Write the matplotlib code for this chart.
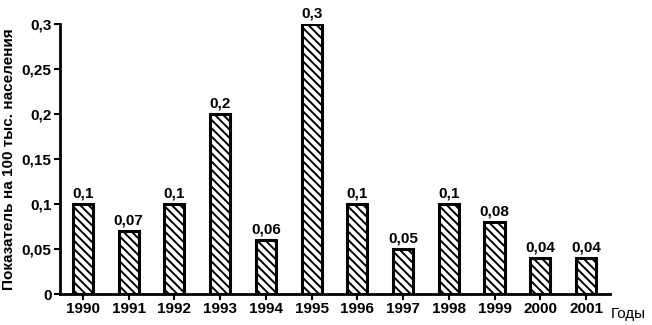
import matplotlib
matplotlib.use("Agg")
import matplotlib.pyplot as plt

years = ["1990", "1991", "1992", "1993", "1994", "1995", "1996", "1997", "1998", "1999", "2000", "2001"]
values = [0.1, 0.07, 0.1, 0.2, 0.06, 0.3, 0.1, 0.05, 0.1, 0.08, 0.04, 0.04]
labels = ["0,1", "0,07", "0,1", "0,2", "0,06", "0,3", "0,1", "0,05", "0,1", "0,08", "0,04", "0,04"]
yticks = [0, 0.05, 0.1, 0.15, 0.2, 0.25, 0.3]
yticklabels = ["0", "0,05", "0,1", "0,15", "0,2", "0,25", "0,3"]

plt.rcParams['font.family'] = ['Liberation Sans', 'DejaVu Sans']
plt.rcParams['font.weight'] = 'bold'
plt.rcParams['hatch.linewidth'] = 1.4

fig = plt.figure(figsize=(6.52, 3.25), dpi=100)
ax = fig.add_axes([0.092, 0.095, 0.844, 0.831])

x = list(range(len(years)))
bars = ax.bar(x, values, width=0.44, color='white', edgecolor='black',
              linewidth=2.2, hatch='\\\\\\\\')
for xi, v, lab in zip(x, values, labels):
    ax.text(xi, v + 0.004, lab, ha='center', va='bottom', fontsize=11, fontweight='bold')

ax.set_xlim(-0.5, 11.53)
ax.set_ylim(0, 0.3)
ax.set_xticks(x)
ax.set_xticklabels(years, fontsize=11, fontweight='bold')
ax.set_yticks(yticks)
ax.set_yticklabels(yticklabels, fontsize=11, fontweight='bold')
ax.spines['top'].set_visible(False)
ax.spines['right'].set_visible(False)
ax.spines['left'].set_linewidth(2)
ax.spines['bottom'].set_linewidth(2)
ax.spines['left'].set_clip_on(False)
ax.tick_params(axis='both', direction='out', length=4, width=1.5, pad=2)
ax.set_ylabel("Показатель на 100 тыс. населения", fontsize=11, fontweight='bold', labelpad=4)
ax.text(1.0, -0.075, "Годы", transform=ax.transAxes, ha='left', va='center',
        fontsize=11, fontweight='normal')

fig.savefig("out.png", dpi=100)
